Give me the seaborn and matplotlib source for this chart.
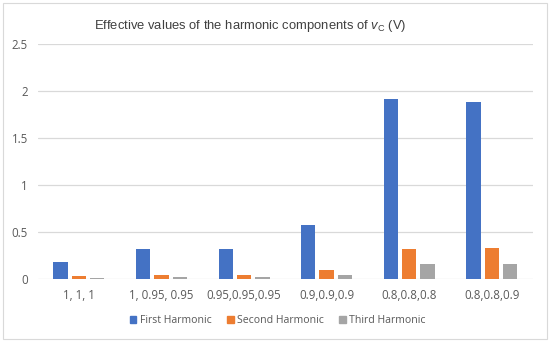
import pandas as pd
import matplotlib.pyplot as plt
import matplotlib.patches as mpatches
import seaborn as sns

# Dados
categorias = ['1, 1, 1', '1, 0.95, 0.95', '0.95,0.95,0.95', '0.9,0.9,0.9', '0.8,0.8,0.8', '0.8,0.8,0.9']
primeira = [0.18, 0.32, 0.32, 0.58, 1.92, 1.88]
segunda = [0.03, 0.05, 0.05, 0.096, 0.32, 0.33]
terceira = [0.015, 0.025, 0.025, 0.043, 0.167, 0.16]
series = ['First Harmonic', 'Second Harmonic', 'Third Harmonic']
cores = ['#4472C4', '#ED7D31', '#A5A5A5']
yticks = [0, 0.5, 1, 1.5, 2, 2.5]
ytick_labels = ['0', '0.5', '1', '1.5', '2', '2.5']

df = pd.DataFrame({
    'cat': categorias * 3,
    'valor': primeira + segunda + terceira,
    'serie': [s for s in series for _ in categorias],
})

sns.set_style('white')
plt.rcParams['font.family'] = ['Open Sans', 'DejaVu Sans']
plt.rcParams['mathtext.fontset'] = 'custom'
plt.rcParams['mathtext.it'] = 'Liberation Sans:italic'
plt.rcParams['mathtext.rm'] = 'Liberation Sans'

fig = plt.figure(figsize=(5.5, 3.43), dpi=100)
ax = fig.add_axes([0.0685, 0.1857, 0.9006, 0.686])

sns.barplot(data=df, x='cat', y='valor', hue='serie', palette=cores,
            width=0.667, gap=0.22, ax=ax, legend=False, saturation=1,
            linewidth=0, zorder=3)

ax.set_ylim(0, 2.5)
ax.set_xlim(-0.5, len(categorias) - 0.5)
ax.set_yticks(yticks)
ax.set_yticklabels(ytick_labels)
ax.yaxis.grid(True, color='#D9D9D9', lw=0.9, zorder=0)
ax.set_axisbelow(True)
for s in ax.spines.values():
    s.set_visible(False)
ax.tick_params(axis='both', length=0, labelsize=8.3, labelcolor='#595959')
ax.tick_params(axis='y', pad=7)
ax.tick_params(axis='x', pad=7)
ax.set_xlabel('')
ax.set_ylabel('')

fig.text(0.455, 0.925, r'Effective values of the harmonic components of $v_\mathrm{C}$ (V)',
         ha='center', va='center', fontsize=9.4, color='#404040', family='Liberation Sans')

handles = [mpatches.Patch(color=c, label=s) for c, s in zip(cores, series)]
leg = fig.legend(handles=handles, loc='center', bbox_to_anchor=(0.505, 0.065), ncol=3,
                 frameon=False, fontsize=7.6, handlelength=0.6, handleheight=0.6,
                 handletextpad=0.3, columnspacing=1.5)
for t in leg.get_texts():
    t.set_color('#595959')

fig.patches.append(mpatches.Rectangle((0.006, 0.012), 0.988, 0.978, transform=fig.transFigure,
                                      fill=False, edgecolor='#D9D9D9', lw=0.8))

plt.savefig('out.png', dpi=100)
